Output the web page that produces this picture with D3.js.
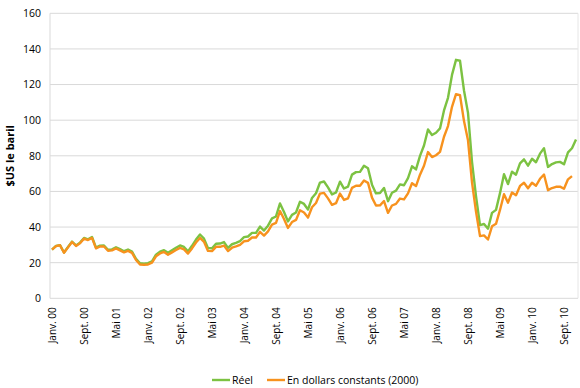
<!DOCTYPE html>
<html>
<head>
<meta charset="utf-8">
<script src="https://cdn.jsdelivr.net/npm/d3@7"></script>
<style>
  body { margin: 0; background: #fff; }
  text { font-family: "Open Sans", sans-serif; fill: #000; }
</style>
</head>
<body>
<svg id="chart" width="580" height="388"></svg>
<script>
// month names used to build the categories (Jan 2000 .. Dec 2010)
const monthNames = ['Janv.', 'Févr.', 'Mars', 'Avr.', 'Mai', 'Juin', 'Juil.', 'Août', 'Sept.', 'Oct.', 'Nov.', 'Déc.'];
const years = ['00', '01', '02', '03', '04', '05', '06', '07', '08', '09', '10'];

// prix réel, $US le baril
const reel = [
  27.26, 29.37, 29.84, 25.72, 28.79, 31.82, 29.70, 31.26, 33.88, 33.11, 34.42, 28.44,
  29.59, 29.61, 27.25, 27.49, 28.63, 27.60, 26.43, 27.37, 26.20, 22.17, 19.64, 19.39,
  19.72, 20.72, 24.53, 26.18, 27.04, 25.52, 26.97, 28.39, 29.66, 28.84, 26.35, 29.46,
  32.95, 35.83, 33.51, 28.17, 28.11, 30.66, 30.76, 31.57, 28.31, 30.34, 31.11, 32.13,
  34.31, 34.69, 36.74, 36.75, 40.28, 38.03, 40.78, 44.90, 45.94, 53.28, 48.47, 43.15,
  46.84, 48.15, 54.19, 52.98, 49.83, 56.35, 59.00, 64.99, 65.59, 62.26, 58.32, 59.41,
  65.49, 61.63, 62.69, 69.44, 70.84, 70.95, 74.41, 73.04, 63.80, 58.89, 59.08, 61.96,
  54.51, 59.28, 60.44, 63.98, 63.46, 67.49, 74.12, 72.36, 79.92, 85.80, 94.77, 91.69,
  92.97, 95.39, 105.45, 112.58, 125.40, 133.88, 133.37, 116.67, 104.11, 76.61, 57.31, 41.12,
  41.71, 39.09, 47.94, 49.65, 59.03, 69.64, 64.15, 71.05, 69.41, 75.72, 77.99, 74.47,
  78.33, 76.39, 81.20, 84.29, 73.74, 75.34, 76.32, 76.60, 75.24, 81.89, 84.25, 89.15
];

// en dollars constants (2000), ends one month earlier
const constants = [
  27.3, 29.3, 29.8, 25.6, 28.6, 31.6, 29.4, 30.9, 33.5, 32.7, 33.9, 28.0,
  29.1, 29.1, 26.7, 26.9, 28.0, 26.9, 25.8, 26.6, 25.5, 21.5, 19.0, 18.8,
  19.0, 20.0, 23.6, 25.2, 26.0, 24.5, 25.8, 27.1, 28.3, 27.5, 25.1, 28.0,
  31.3, 33.9, 31.7, 26.6, 26.5, 28.9, 28.9, 29.6, 26.5, 28.4, 29.1, 30.0,
  32.0, 32.3, 34.1, 34.1, 37.3, 35.2, 37.6, 41.4, 42.3, 49.0, 44.5, 39.5,
  42.8, 44.0, 49.4, 48.2, 45.3, 51.1, 53.5, 58.8, 59.2, 56.1, 52.5, 53.4,
  58.8, 55.2, 56.1, 62.0, 63.2, 63.2, 66.1, 64.8, 56.5, 52.1, 52.2, 54.6,
  48.0, 52.1, 53.0, 56.0, 55.5, 58.9, 64.6, 63.0, 69.4, 74.4, 82.1, 79.3,
  80.3, 82.2, 90.7, 96.7, 107.5, 114.6, 114.0, 99.5, 88.7, 65.1, 48.7, 34.9,
  35.3, 33.0, 40.4, 41.8, 49.6, 58.4, 53.7, 59.4, 57.9, 63.1, 64.9, 61.8,
  64.9, 63.2, 67.1, 69.5, 60.7, 61.9, 62.6, 62.7, 61.5, 66.8, 68.6
];

const yTicks = [0, 20, 40, 60, 80, 100, 120, 140, 160];
const tickLabels = ['Janv. 00', 'Sept. 00', 'Mai 01', 'Janv. 02', 'Sept. 02', 'Mai 03', 'Janv. 04',
  'Sept. 04', 'Mai 05', 'Janv. 06', 'Sept. 06', 'Mai 07', 'Janv. 08', 'Sept. 08', 'Mai 09',
  'Janv. 10', 'Sept. 10'];

const seriesNames = ['Réel', 'En dollars constants (2000)'];
const colors = ['#7cc242', '#f7921e'];

const categories = [];
years.forEach(yr => monthNames.forEach(m => categories.push(m + ' ' + yr)));

const svg = d3.select('#chart');
const plotLeft = 50, plotRight = 578, plotTop = 13.3, plotBottom = 298.3;

const x = d3.scaleBand().domain(categories).range([plotLeft, plotRight]).padding(0);
const y = d3.scaleLinear().domain([0, 160]).range([plotBottom, plotTop]);
const cx = c => x(c) + x.bandwidth() / 2;

// gridlines
svg.append('g')
  .selectAll('line')
  .data(yTicks.filter(d => d > 0))
  .enter()
  .append('line')
  .attr('x1', plotLeft)
  .attr('x2', plotRight)
  .attr('y1', d => y(d))
  .attr('y2', d => y(d))
  .style('stroke', '#d9d9d9')
  .style('stroke-width', 1);

// plot frame: left, bottom, right
svg.append('line').attr('x1', plotLeft).attr('x2', plotLeft).attr('y1', plotTop).attr('y2', plotBottom)
  .style('stroke', '#d9d9d9');
svg.append('line').attr('x1', plotRight).attr('x2', plotRight).attr('y1', plotTop).attr('y2', plotBottom)
  .style('stroke', '#e6e6e6');
svg.append('line').attr('x1', plotLeft).attr('x2', plotRight).attr('y1', plotBottom).attr('y2', plotBottom)
  .style('stroke', '#d9d9d9');

// y axis labels
const yAxis = svg.append('g')
  .attr('transform', `translate(${plotLeft},0)`)
  .call(d3.axisLeft(y).tickValues(yTicks).tickSize(0).tickPadding(9));
yAxis.select('.domain').remove();
yAxis.selectAll('text')
  .style('font-family', '"Open Sans", sans-serif')
  .style('font-size', '10.5px')
  .style('fill', '#000');

// x axis labels, rotated
const xAxis = svg.append('g')
  .attr('transform', `translate(0,${plotBottom})`)
  .call(d3.axisBottom(x)
    .tickValues(tickLabels)
    .tickSize(0)
    .tickFormat(d => d));
xAxis.select('.domain').remove();
xAxis.selectAll('text')
  .style('font-family', '"Open Sans", sans-serif')
  .style('font-size', '10px')
  .style('fill', '#000')
  .attr('text-anchor', 'end')
  .attr('transform', 'rotate(-90)')
  .attr('x', -9)
  .attr('y', 0)
  .attr('dy', '0.35em');

// y axis title
svg.append('text')
  .attr('transform', `translate(14,${(plotTop + plotBottom) / 2}) rotate(-90)`)
  .attr('text-anchor', 'middle')
  .style('font-size', '11px')
  .style('font-weight', 'bold')
  .text('$US le baril');

// lines
const line = d3.line()
  .x((d, i) => cx(categories[i]))
  .y(d => y(d));

[reel, constants].forEach((values, k) => {
  svg.append('path')
    .datum(values)
    .attr('d', line)
    .style('fill', 'none')
    .style('stroke', colors[k])
    .style('stroke-width', 2.4)
    .style('stroke-linejoin', 'round');
});

// legend
const legendItems = [{ x: 212, name: seriesNames[0] }, { x: 267, name: seriesNames[1] }];
const legend = svg.append('g').attr('transform', 'translate(0,380)');
legendItems.forEach((item, k) => {
  legend.append('line')
    .attr('x1', item.x)
    .attr('x2', item.x + 18)
    .attr('y1', 0)
    .attr('y2', 0)
    .style('stroke', colors[k])
    .style('stroke-width', 2.4);
  legend.append('text')
    .attr('x', item.x + 20)
    .attr('y', 0)
    .attr('dy', '0.35em')
    .style('font-size', '10.5px')
    .text(item.name);
});
</script>
</body>
</html>
